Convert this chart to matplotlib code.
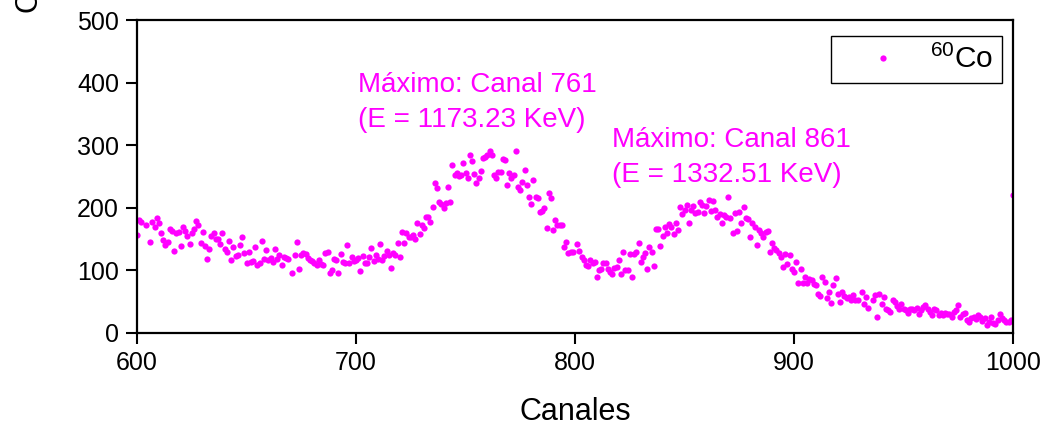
import matplotlib
matplotlib.use("Agg")
import matplotlib.pyplot as plt

plt.rcParams['font.family'] = ['Liberation Sans', 'DejaVu Sans']
plt.rcParams['mathtext.fontset'] = 'custom'
plt.rcParams['mathtext.rm'] = 'Liberation Sans'
plt.rcParams['mathtext.it'] = 'Liberation Sans:italic'
plt.rcParams['mathtext.bf'] = 'Liberation Sans:bold'

# ---- data (channel, counts) ----
channels = [
    600, 601, 602, 604, 606, 607, 608, 609, 610, 611, 612, 613, 614, 615, 616, 617, 618, 619,
    620, 621, 622, 623, 624, 625, 626, 627, 628, 629, 630, 631, 632, 633, 634, 635, 636, 637, 638, 639,
    640, 641, 642, 643, 644, 645, 646, 647, 648, 649, 650, 651, 652, 653, 654, 655, 656, 657, 658, 659,
    660, 661, 662, 663, 664, 665, 666, 667, 668, 669, 671, 672, 673, 674, 675, 676, 677, 678, 679,
    680, 681, 682, 683, 684, 685, 686, 687, 688, 689, 690, 691, 692, 693, 694, 695, 696, 697, 698, 699,
    700, 701, 702, 703, 704, 705, 706, 707, 708, 709, 710, 711, 712, 713, 714, 715, 716, 717, 718, 719,
    720, 721, 722, 723, 724, 725, 726, 727, 728, 729, 730, 731, 732, 733, 734, 735, 736, 737, 738, 739,
    740, 741, 742, 743, 744, 745, 746, 747, 748, 749, 750, 751, 752, 753, 754, 755, 756, 757, 758, 759,
    760, 761, 762, 763, 764, 765, 766, 767, 768, 769, 770, 771, 772, 773, 774, 775, 776, 777, 778, 779,
    780, 781, 782, 783, 784, 785, 786, 787, 788, 789, 790, 791, 792, 793, 794, 795, 796, 797, 798, 799,
    801, 802, 803, 804, 805, 806, 807, 808, 809, 810, 811, 812, 813, 814, 815, 816, 817, 818, 819,
    820, 821, 822, 823, 824, 825, 826, 827, 828, 829, 830, 831, 832, 833, 834, 835, 836, 837, 838, 839,
    840, 841, 842, 843, 844, 845, 846, 847, 848, 849, 850, 851, 852, 853, 854, 855, 856, 857, 858, 859,
    860, 861, 862, 863, 864, 865, 866, 867, 868, 869, 870, 871, 872, 873, 874, 875, 876, 877, 878, 879,
    880, 881, 882, 883, 884, 885, 886, 887, 888, 889, 890, 891, 892, 893, 894, 895, 896, 897, 898, 899,
    900, 901, 902, 903, 904, 905, 906, 907, 908, 909, 910, 911, 912, 913, 914, 915, 916, 917, 918, 919,
    920, 921, 922, 923, 924, 925, 926, 927, 928, 929, 931, 932, 933, 934, 936, 937, 938, 939,
    940, 941, 942, 943, 944, 945, 946, 947, 948, 949, 950, 951, 952, 953, 954, 955, 956, 957, 958, 959,
    960, 961, 962, 963, 964, 965, 966, 967, 968, 969, 970, 971, 972, 973, 974, 975, 976, 977, 978, 979,
    980, 981, 982, 983, 984, 985, 986, 987, 988, 989, 990, 991, 992, 993, 994, 995, 996, 997, 998, 999,
    1000,
]
counts = [
    157, 180, 178, 173, 146, 178, 170, 183, 175, 159, 148, 140, 145, 166, 163, 131, 160, 162,
    139, 169, 163, 155, 142, 160, 166, 179, 173, 144, 161, 139, 118, 134, 155, 160, 150, 150, 142, 160,
    134, 129, 147, 116, 137, 123, 124, 140, 154, 127, 112, 130, 113, 115, 137, 108, 112, 147, 119, 132,
    116, 120, 114, 134, 119, 124, 108, 122, 120, 119, 96, 125, 146, 102, 124, 127, 126, 120, 117,
    115, 112, 109, 117, 111, 108, 127, 130, 96, 101, 119, 117, 96, 126, 114, 112, 141, 112, 122, 115,
    117, 120, 99, 123, 112, 112, 122, 136, 115, 124, 118, 142, 117, 123, 131, 124, 104, 127, 125, 143,
    121, 162, 144, 160, 154, 154, 157, 150, 176, 158, 172, 168, 186, 185, 178, 201, 239, 231, 210, 206,
    199, 207, 233, 209, 268, 252, 255, 251, 252, 272, 256, 248, 284, 274, 254, 240, 248, 258, 279, 281,
    285, 290, 284, 252, 247, 257, 257, 278, 276, 237, 255, 247, 253, 290, 233, 228, 242, 261, 237, 218,
    206, 245, 217, 216, 194, 195, 199, 168, 223, 216, 164, 180, 172, 172, 173, 137, 145, 127, 130, 129,
    142, 131, 122, 116, 109, 107, 116, 112, 113, 90, 101, 102, 112, 112, 102, 97, 94, 104, 106,
    117, 94, 129, 100, 101, 126, 89, 126, 130, 143, 114, 121, 127, 102, 137, 130, 107, 166, 166, 139,
    155, 170, 159, 174, 170, 158, 175, 164, 201, 190, 197, 205, 176, 196, 203, 191, 193, 210, 204, 192,
    203, 213, 195, 211, 197, 185, 190, 176, 188, 185, 218, 183, 160, 191, 163, 193, 176, 201, 183, 182,
    154, 175, 170, 140, 165, 160, 153, 161, 163, 130, 144, 135, 133, 128, 122, 105, 126, 110, 125, 102,
    98, 113, 80, 102, 80, 90, 80, 87, 84, 79, 76, 62, 59, 90, 81, 56, 65, 48, 77, 88,
    63, 50, 66, 59, 56, 58, 53, 61, 53, 53, 66, 47, 58, 40, 53, 60, 26, 63,
    46, 58, 39, 36, 34, 52, 50, 43, 39, 47, 39, 36, 32, 39, 39, 36, 40, 31, 36, 42,
    44, 39, 34, 29, 39, 36, 28, 32, 28, 32, 30, 31, 26, 34, 36, 44, 26, 31, 32, 21,
    18, 24, 25, 22, 28, 26, 19, 24, 12, 18, 26, 16, 15, 21, 31, 24, 21, 18, 18, 20,
    220,
]

xticks = [600, 700, 800, 900, 1000]
yticks = [0, 100, 200, 300, 400, 500]
series_label = r'$^{60}$Co'
ann1 = "Máximo: Canal 761\n(E = 1173.23 KeV)"
ann2 = "Máximo: Canal 861\n(E = 1332.51 KeV)"
MAG = '#FF00FF'

W, H = 1053, 426
fig = plt.figure(figsize=(W / 100, H / 100), dpi=100)
ax = fig.add_axes([137 / W, 1 - 333 / H, (1013 - 137) / W, (333 - 20) / H])

ax.plot(channels, counts, linestyle='none', marker='o', ms=4.5, mew=0,
        color=MAG, label=series_label)

ax.set_xlim(600, 1000)
ax.set_ylim(0, 500)
ax.set_xticks(xticks)
ax.set_yticks(yticks)
ax.tick_params(axis='both', direction='out', length=8, width=1.5,
               labelsize=18, top=False, right=False, pad=5)
for s in ax.spines.values():
    s.set_linewidth(1.6)
    s.set_color('black')

ax.set_xlabel('Canales', fontsize=22, labelpad=16)
fig.text(28 / W, 1 - 12 / H, 'Cuentas', rotation=90, ha='center',
         va='bottom', fontsize=22)

ax.text(358 / W, 1 - 72 / H, ann1, transform=fig.transFigure, color=MAG,
        fontsize=20, ha='left', va='top', linespacing=1.45)
ax.text(612 / W, 1 - 127 / H, ann2, transform=fig.transFigure, color=MAG,
        fontsize=20, ha='left', va='top', linespacing=1.45)

leg = ax.legend(loc='upper right', bbox_to_anchor=(1002 / W, 1 - 36 / H),
                bbox_transform=fig.transFigure, borderaxespad=0,
                fancybox=False, edgecolor='black', framealpha=1,
                fontsize=21.5, handlelength=2.9, handletextpad=0.1,
                borderpad=0.3, markerscale=1.0)
leg.get_frame().set_linewidth(1.0)

fig.savefig('out.png', dpi=100)
